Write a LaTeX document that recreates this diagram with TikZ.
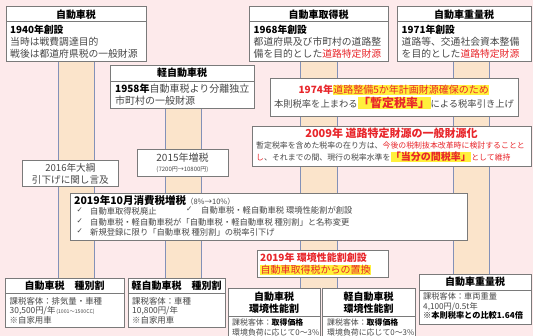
\documentclass[tikz,border=0pt]{standalone}
\usepackage{fontspec}
\setmainfont{Noto Sans CJK JP}
\newfontfamily\chkfont{DejaVu Sans}
\usetikzlibrary{shadows}
\definecolor{bgpink}{HTML}{FDEAEB}
\definecolor{barpeach}{HTML}{FBE4CB}
\definecolor{barline}{HTML}{8391B8}
\definecolor{boxline}{HTML}{7A7A7A}
\definecolor{txt}{HTML}{474747}
\definecolor{redtxt}{HTML}{E8262B}
\definecolor{hlyellow}{HTML}{FFF03C}
\newcommand{\fs}[2]{\fontsize{#1}{#2}\selectfont}
\newcommand{\rd}[1]{\textcolor{redtxt}{#1}}
\newcommand{\yhl}[1]{{\setlength{\fboxsep}{0.4pt}\colorbox{hlyellow}{#1}}}
\newcommand{\bk}[1]{\textbf{\textcolor{black}{#1}}}
\pgfdeclarelayer{back}
\pgfsetlayers{back,main}

\begin{document}
\begin{tikzpicture}[x=1pt,y=-1pt,
    box/.style={draw=boxline,fill=white,line width=0.7pt,anchor=north west,inner sep=0pt,
        drop shadow={shadow xshift=0.8pt,shadow yshift=-0.8pt,fill=black!30}},
    hdrline/.style={draw=boxline,line width=0.7pt},
    hdr/.style={inner sep=0pt,text=black,align=center,font=\bfseries\fs{10}{12.4}},
    body/.style={anchor=north west,inner sep=0pt,align=left,text=txt,font=\fs{9.8}{11.9}},
    smallbody/.style={body,font=\fs{8.4}{9.7}},
    barband/.style={fill=barpeach},
    baredge/.style={draw=barline,line width=0.8pt}
]
\useasboundingbox (0,0) rectangle (533,336);

% top row
\node[box,minimum width=140pt,minimum height=55pt] (jdsz) at (6,6) {};
\draw[hdrline] ([yshift=-15pt]jdsz.north west) -- ([yshift=-15pt]jdsz.north east);
\node[hdr] at (76,14.3) {自動車税};
\node[body] at (10,24.7) {\bk{1940年創設}\\当時は戦費調達目的\\戦後は都道府県税の一般財源};

\node[box,minimum width=139pt,minimum height=55pt] (shutoku) at (249,6) {};
\draw[hdrline] ([yshift=-15pt]shutoku.north west) -- ([yshift=-15pt]shutoku.north east);
\node[hdr] at (318.5,14.3) {自動車取得税};
\node[body] at (253.5,24.7) {\bk{1968年創設}\\都道府県及び市町村の道路整\\備を目的とした\rd{道路特定財源}};

\node[box,minimum width=134pt,minimum height=55pt] (juryo) at (397,6) {};
\draw[hdrline] ([yshift=-15pt]juryo.north west) -- ([yshift=-15pt]juryo.north east);
\node[hdr] at (464,14.3) {自動車重量税};
\node[body] at (401.5,24.7) {\bk{1971年創設}\\道路等、交通社会資本整備\\を目的とした\rd{道路特定財源}};

\node[box,minimum width=144pt,minimum height=43pt] (kei) at (110,65) {};
\draw[hdrline] ([yshift=-16pt]kei.north west) -- ([yshift=-16pt]kei.north east);
\node[hdr] at (182,72.8) {軽自動車税};
\node[body,font=\fs{10}{11.7}] at (115,84) {\bk{1958年}自動車税より分離独立\\市町村の一般財源};

% revisions
\node[box,minimum width=248pt,minimum height=38pt] (zantei) at (270,78) {};
\node[inner sep=0pt,align=center,text=txt,font=\fs{9.3}{13.7}] at (394,97)
    {{\fs{10}{13.7}\rd{\textbf{1974年}\yhl{道路整備5か年計画財源確保のため}}}\\
     本則税率を上まわる\yhl{\rd{\bfseries\fs{12}{13.7}「暫定税率」}}による税率引き上げ};

\node[box,minimum width=279pt,minimum height=40pt] (toubun) at (252,126) {};
\node[inner sep=0pt,text=redtxt,font=\bfseries\fs{11}{13}] at (391.5,133.7) {2009年 道路特定財源の一般財源化};
\node[body,font=\fs{7.9}{11.9}] at (256,141.8)
    {暫定税率を含めた税率の在り方は、\rd{今後の税制抜本改革時に検討することと}\\
     \rd{し}、それまでの間、現行の税率水準を\yhl{\rd{\bfseries\fs{10}{11.9}「当分の間税率」}}\rd{として維持}};

\node[box,minimum width=96pt,minimum height=26pt] (taikou) at (22,160) {};
\node[inner sep=0pt,align=center,text=txt,font=\fs{9.6}{12}] at (taikou.center) {2016年大綱\\引下げに関し言及};

\node[box,minimum width=91pt,minimum height=27pt] (zouzei) at (137,149) {};
\node[inner sep=0pt,align=center,text=txt,font=\fs{10}{10.4}] at (182.5,163) {2015年増税\\{\fs{6}{10.4}(7200円→10800円)}};

\node[box,minimum width=397pt,minimum height=47pt] (shohi) at (70,193) {};
\node[body,text=black,font=\bfseries\fs{10.5}{12}] at (74,195.7) {2019年10月消費税増税{\mdseries\color{txt}\fs{7.5}{12}（8\%→10\%）}};
\node[body,font=\chkfont\fs{7.5}{10.7}] (chk) at (76.5,207.6) {✓\\✓\\✓};
\node[body,font=\fs{8.3}{10.7}] at (90,207.2) {自動車取得税廃止\\自動車税・軽自動車税が「自動車税・軽自動車税 種別割」と名称変更\\新規登録に限り「自動車税 種別割」の税率引下げ};
\node[body,font=\chkfont\fs{7.5}{10.7}] at (186,207.0) {✓};
\node[body,font=\fs{8.3}{10.7}] at (201,206.6) {自動車税・軽自動車税 環境性能割が創設};

\node[box,minimum width=131pt,minimum height=27pt] (kankyo) at (257,250) {};
\node[body,text=redtxt,font=\fs{10}{12}] at (260,253) {\textbf{2019年 環境性能割創設}\\\yhl{自動車取得税からの置換}};

% bottom row
\node[box,minimum width=119pt,minimum height=49pt] (kind1) at (5,278) {};
\draw[hdrline] ([yshift=-15pt]kind1.north west) -- ([yshift=-15pt]kind1.north east);
\node[hdr] at (64.5,286) {自動車税　種別割};
\node[smallbody] at (9.5,296.8) {課税客体：排気量・車種\\30,500円/年{\fs{5.2}{9.7}\,(1001～1500CC)}\\※自家用車};

\node[box,minimum width=97pt,minimum height=49pt] (kind2) at (128,278) {};
\draw[hdrline] ([yshift=-15pt]kind2.north west) -- ([yshift=-15pt]kind2.north east);
\node[hdr] at (176.5,286) {軽自動車税　種別割};
\node[smallbody] at (132,296.8) {課税客体：車種\\10,800円/年\\※自家用車};

\node[box,minimum width=92pt,minimum height=52pt] (env1) at (228,288) {};
\draw[hdrline] ([yshift=-28pt]env1.north west) -- ([yshift=-28pt]env1.north east);
\node[hdr] at (274,302.8) {自動車税\\環境性能割};
\node[smallbody,font=\fs{7.9}{9.6}] at (232,318.8) {課税客体：\bk{取得価格}\\環境負荷に応じて0～3\%};

\node[box,minimum width=93pt,minimum height=52pt] (env2) at (322,288) {};
\draw[hdrline] ([yshift=-28pt]env2.north west) -- ([yshift=-28pt]env2.north east);
\node[hdr] at (368.5,302.8) {軽自動車税\\環境性能割};
\node[smallbody,font=\fs{7.9}{9.6}] at (327,318.8) {課税客体：\bk{取得価格}\\環境負荷に応じて0～3\%};

\node[box,minimum width=112pt,minimum height=50pt] (juryo2) at (419,274) {};
\draw[hdrline] ([yshift=-16pt]juryo2.north west) -- ([yshift=-16pt]juryo2.north east);
\node[hdr] at (475,281.8) {自動車重量税};
\node[smallbody,font=\fs{8.2}{9.5}] at (423,292.9) {課税客体：車両重量\\4,100円/0.5t年\\\bk{※本則税率との比較1.64倍}};

% bands behind the boxes
\begin{pgfonlayer}{back}
\fill[bgpink] (0,0) rectangle (533,336);
\foreach \up/\dn/\xl/\xr in {jdsz/kind1/58/94, kei/kind2/165/201, shutoku/env1/300/337, juryo/juryo2/453/489} {
    \coordinate (bl) at (\xl,0);
    \coordinate (br) at (\xr,0);
    \fill[barband] (\up.south -| bl) rectangle (\dn.north -| br);
    \draw[baredge] (\up.south -| bl) -- (\dn.north -| bl) (\up.south -| br) -- (\dn.north -| br);
}
\end{pgfonlayer}
\end{tikzpicture}
\end{document}
